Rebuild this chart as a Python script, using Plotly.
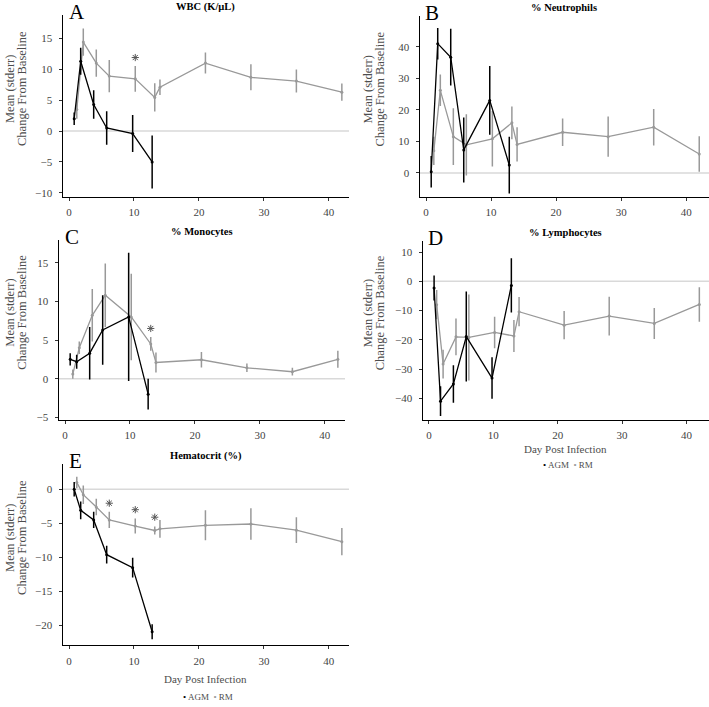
import plotly.graph_objects as go

# ---------------- data ----------------
agm_day = [0.8, 1.8, 3.8, 5.8, 9.8, 12.8]
rm_day = [1.2, 2.2, 4.2, 6.2, 10.2, 13.2, 14, 21, 28, 35, 42]

# A: WBC (K/uL)
wbc_agm = [2.0, 11.3, 4.3, 0.5, -0.4, -5.0]
wbc_agm_se = [1.0, 2.2, 2.3, 2.7, 3.0, 4.3]
wbc_rm = [3.5, 14.4, 11.0, 8.9, 8.45, 5.45, 7.1, 11.0, 8.7, 8.1, 6.3]
wbc_rm_se = [1.5, 2.2, 2.2, 2.6, 2.1, 2.3, 1.25, 1.7, 2.1, 1.85, 1.4]

# B: % Neutrophils
neu_agm = [0.4, 41.0, 36.7, 7.3, 23.0, 2.5]
neu_agm_se = [5.0, 5.0, 9.0, 10.3, 10.9, 9.0]
neu_rm = [7.0, 26.2, 11.5, 8.9, 10.8, 15.9, 9.05, 12.9, 11.5, 14.5, 6.0]
neu_rm_se = [4.5, 5.0, 9.0, 9.7, 8.8, 5.2, 5.4, 4.4, 6.4, 5.8, 5.6]

# C: % Monocytes
mon_agm = [2.5, 2.2, 3.3, 6.3, 8.0, -2.0]
mon_agm_se = [0.8, 0.9, 3.4, 4.5, 8.3, 2.0]
mon_rm = [0.6, 4.0, 8.2, 10.8, 8.0, 4.5, 2.1, 2.45, 1.4, 0.9, 2.5]
mon_rm_se = [0.6, 0.8, 3.4, 4.1, 5.6, 0.9, 1.3, 1.0, 0.55, 0.5, 1.1]

# D: % Lymphocytes
lym_agm = [-2.3, -41.0, -35.1, -18.9, -33.1, -1.4]
lym_agm_se = [4.3, 5.1, 6.4, 15.4, 7.1, 9.3]
lym_rm = [-8.0, -28.3, -19.0, -19.2, -17.5, -18.7, -10.4, -15.0, -11.9, -14.4, -7.9]
lym_rm_se = [5.0, 4.9, 6.3, 14.7, 5.4, 5.5, 5.0, 4.8, 6.6, 5.3, 5.9]

# E: Hematocrit (%)
hct_agm = [0.0, -3.1, -4.5, -9.6, -11.5, -20.9]
hct_agm_se = [1.05, 1.3, 1.2, 1.3, 1.45, 1.1]
hct_rm = [1.0, -0.8, -2.6, -4.5, -5.4, -6.05, -5.8, -5.3, -5.1, -6.0, -7.7]
hct_rm_se = [0.85, 1.35, 1.2, 1.2, 1.1, 0.6, 1.3, 2.2, 2.3, 1.9, 2.0]

# significance marks (x day, y position)
sig_a = ([10.2], [11.9])
sig_c = ([13.2], [6.5])
sig_e = ([6.2, 10.2, 13.2], [-2.05, -3.0, -4.1])

panel_letters = ["A", "B", "C", "D", "E"]
panel_titles = ["WBC (K/µL)", "% Neutrophils", "% Monocytes", "% Lymphocytes", "Hematocrit (%)"]
x_ticks = [0, 10, 20, 30, 40]
y_ticks = [
    [-10, -5, 0, 5, 10, 15],
    [0, 10, 20, 30, 40],
    [-5, 0, 5, 10, 15],
    [-40, -30, -20, -10, 0, 10],
    [-20, -15, -10, -5, 0],
]
y_title_lines = ["Mean (stderr)", "Change From Baseline"]
x_title = "Day Post Infection"

# ---------------- layout geometry (pixels) ----------------
W, H = 709, 707
FONT = "Liberation Serif"
AGM_C = "#000000"
RM_C = "#999999"
ZERO_C = "#d9d9d9"
SIG_C = "#555555"

# (left, right, top, bottom) in px
boxes = [
    (62.5, 349, 15, 198),
    (419.5, 709, 16, 198),
    (58.5, 345, 241, 422),
    (422.5, 709, 242, 422),
    (62.5, 349, 467, 649),
]
y_ranges = [(-10.65, 18.8), (-7.6, 49.8), (-5.3, 18.0), (-47.3, 13.9), (-22.9, 3.65)]
x_ranges = [(-1.0, 43.1), (-1.0, 43.5), (-1.0, 43.1), (-1.0, 43.5), (-1.0, 43.1)]

series = [
    (wbc_agm, wbc_agm_se, wbc_rm, wbc_rm_se),
    (neu_agm, neu_agm_se, neu_rm, neu_rm_se),
    (mon_agm, mon_agm_se, mon_rm, mon_rm_se),
    (lym_agm, lym_agm_se, lym_rm, lym_rm_se),
    (hct_agm, hct_agm_se, hct_rm, hct_rm_se),
]
sigs = [sig_a, None, sig_c, None, sig_e]


def px(x):
    return x / W


def py(y):
    return 1 - y / H


fig = go.Figure()
layout = dict(
    width=W, height=H, margin=dict(l=0, r=0, t=0, b=0),
    paper_bgcolor="white", plot_bgcolor="white", showlegend=False,
    font=dict(family=FONT, size=11, color="#4d4d4d"),
)
annotations = []
shapes = []

for i, (box, yr, xr, (ag, ags, rm, rms)) in enumerate(zip(boxes, y_ranges, x_ranges, series)):
    n = "" if i == 0 else str(i + 1)
    xa, ya = "x" + n, "y" + n
    l, r, t, b = box
    layout["xaxis" + n] = dict(
        domain=[px(l), px(r)], range=list(xr), anchor=ya,
        tickvals=x_ticks, ticks="outside", ticklen=3, tickcolor="#333333",
        showline=True, linecolor="#000000", linewidth=1,
        showgrid=False, zeroline=False, ticklabelstandoff=2,
        tickfont=dict(family=FONT, size=11, color="#444444"),
    )
    layout["yaxis" + n] = dict(
        domain=[py(b), py(t)], range=list(yr), anchor=xa,
        tickvals=y_ticks[i], ticks="outside", ticklen=3, tickcolor="#333333",
        showline=True, linecolor="#000000", linewidth=1,
        showgrid=False, zeroline=False, ticklabelstandoff=4,
        tickfont=dict(family=FONT, size=11, color="#444444"),
    )
    shapes.append(dict(type="line", xref=xa + " domain", yref=ya, x0=0, x1=1, y0=0, y1=0,
                       line=dict(color=ZERO_C, width=1.5), layer="below"))
    fig.add_trace(go.Scatter(
        x=rm_day, y=rm, xaxis=xa, yaxis=ya, mode="lines+markers", name="RM",
        line=dict(color=RM_C, width=1.3), marker=dict(color=RM_C, size=3),
        error_y=dict(type="data", array=rms, color=RM_C, thickness=1.5, width=0),
    ))
    fig.add_trace(go.Scatter(
        x=agm_day, y=ag, xaxis=xa, yaxis=ya, mode="lines+markers", name="AGM",
        line=dict(color=AGM_C, width=1.3), marker=dict(color=AGM_C, size=3),
        error_y=dict(type="data", array=ags, color=AGM_C, thickness=1.5, width=0),
    ))
    s = sigs[i]
    if s is not None:
        fig.add_trace(go.Scatter(
            x=s[0], y=s[1], xaxis=xa, yaxis=ya, mode="markers", name="sig",
            marker=dict(symbol="asterisk-open", size=6, color=SIG_C, line=dict(color=SIG_C, width=1)),
        ))
    # panel letter
    annotations.append(dict(x=px(l + 4), y=py(t - 3), xref="paper", yref="paper", text=panel_letters[i],
                            showarrow=False, xanchor="left", yanchor="middle",
                            font=dict(family=FONT, size=21, color="#000000")))
    # panel title
    annotations.append(dict(x=px((l + r) / 2), y=py(t - 8), xref="paper", yref="paper",
                            text="<b>" + panel_titles[i] + "</b>", showarrow=False,
                            xanchor="center", yanchor="middle",
                            font=dict(family=FONT, size=10.5, color="#000000")))
    # y-axis title (two lines)
    base_x = 10 if l < 200 else 368
    for k, line in enumerate(y_title_lines):
        annotations.append(dict(x=px(base_x + 12 * k), y=py((t + b) / 2 - 17), xref="paper", yref="paper",
                                text=line, showarrow=False, textangle=-90,
                                xanchor="center", yanchor="middle",
                                font=dict(family=FONT, size=12.5, color="#4d4d4d")))

# x-axis titles and legends (under D and E)
for cx, ty, ly in [(565, 452, 468), (205, 683, 701)]:
    annotations.append(dict(x=px(cx), y=py(ty), xref="paper", yref="paper", text=x_title,
                            showarrow=False, xanchor="center", yanchor="middle",
                            font=dict(family=FONT, size=11, color="#4d4d4d")))
    annotations.append(dict(x=px(cx + 3), y=py(ly), xref="paper", yref="paper",
                            text="<span style='color:#000000'>•</span> AGM  <span style='color:#999999'>•</span> RM",
                            showarrow=False, xanchor="center", yanchor="middle",
                            font=dict(family=FONT, size=9, color="#4d4d4d")))

layout["annotations"] = annotations
layout["shapes"] = shapes
fig.update_layout(**layout)
fig.write_html("out.html", config={"displayModeBar": False},
               post_script="document.body.style.margin='0';document.body.style.overflow='hidden';")
